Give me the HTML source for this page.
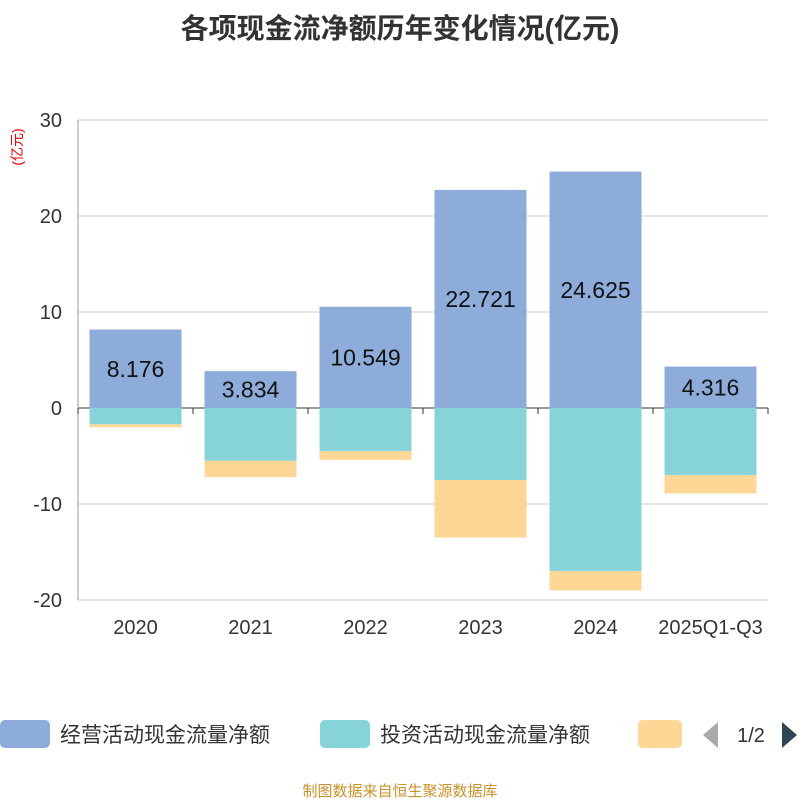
<!DOCTYPE html>
<html><head><meta charset="utf-8"><style>
body{margin:0;background:#fff;font-family:"Liberation Sans","Noto Sans CJK SC",sans-serif;}
</style></head><body>
<svg width="800" height="800" xmlns="http://www.w3.org/2000/svg" font-family="Liberation Sans, Noto Sans CJK SC, sans-serif">
<text x="400" y="38" text-anchor="middle" font-size="28" font-weight="bold" fill="#333">各项现金流净额历年变化情况(亿元)</text>
<text transform="translate(22,147) rotate(-90)" text-anchor="middle" font-size="14" fill="#e00">(亿元)</text>
<g id="grid"></g><g id="bars"></g><g id="axes"></g>
<g>
<rect x="0" y="720" width="50" height="28" rx="5" fill="#8eacd9"/>
<text x="60" y="742" font-size="21" fill="#333">经营活动现金流量净额</text>
<rect x="320" y="720" width="50" height="28" rx="5" fill="#87d4d8"/>
<text x="380" y="742" font-size="21" fill="#333">投资活动现金流量净额</text>
<rect x="638" y="720" width="44" height="28" rx="5" fill="#fed796"/>
<polygon points="718,722 718,748 703,735" fill="#aaa"/>
<text x="751" y="742" text-anchor="middle" font-size="20" fill="#333">1/2</text>
<polygon points="782,722 782,748 797,735" fill="#2f4554"/>
</g>
<text x="400" y="796" text-anchor="middle" font-size="15" fill="#c8922a">制图数据来自恒生聚源数据库</text>
</svg>
<script>
const categories=["2020","2021","2022","2023","2024","2025Q1-Q3"];
const operating=[8.176,3.834,10.549,22.721,24.625,4.316];
const investing=[-1.7,-5.5,-4.5,-7.5,-17.0,-7.0];
const financing=[-0.3,-1.7,-0.9,-6.0,-2.0,-1.9];
const yTicks=[30,20,10,0,-10,-20];
const ns="http://www.w3.org/2000/svg";
const x0=78,x1=768,yTop=120,yBot=600,yMax=30,yMin=-20;
const y=v=>yTop+(yMax-v)/(yMax-yMin)*(yBot-yTop);
const band=(x1-x0)/categories.length;
const bx=i=>x0+i*band;
function mk(tag,attrs,parent){const e=document.createElementNS(ns,tag);for(const k in attrs)e.setAttribute(k,attrs[k]);document.getElementById(parent).appendChild(e);return e;}
yTicks.forEach(t=>{
 const l=mk('line',{x1:x0,x2:x1,y1:y(t),y2:y(t),stroke:t===0?'#333':'#ccc','stroke-width':1},'grid');
 
 
 const tx=mk('text',{x:x0-16,y:y(t)+7,'text-anchor':'end','font-size':20,fill:'#333'},'axes');
 tx.textContent=t;
 
 
});
const ax=mk('line',{x1:x0,x2:x0,y1:yTop,y2:yBot,stroke:'#999'},'axes');


categories.forEach((c,i)=>{
 const bw=92,left=bx(i)+(band-bw)/2;
 const o=mk('rect',{x:left,y:y(operating[i]),width:bw,height:y(0)-y(operating[i]),fill:'#8eacd9'},'bars');
 
 
 const iv=mk('rect',{x:left,y:y(0),width:bw,height:y(investing[i])-y(0),fill:'#87d4d8'},'bars');
 
 
 const f=mk('rect',{x:left,y:y(investing[i]),width:bw,height:y(investing[i]+financing[i])-y(investing[i]),fill:'#fed796'},'bars');
 
 
 const lb=mk('text',{x:left+bw/2,y:(y(operating[i])+y(0))/2+8,'text-anchor':'middle','font-size':23,fill:'#111'},'bars');
 lb.textContent=operating[i].toFixed(3);
 
 
 const tk=mk('line',{x1:bx(i),x2:bx(i),y1:y(0),y2:y(0)+6,stroke:'#333'},'axes');
 
 
 const xl=mk('text',{x:bx(i)+band/2,y:634,'text-anchor':'middle','font-size':20,fill:'#333'},'axes');
 xl.textContent=c;
 
 
});
const lt=mk('line',{x1:x1,x2:x1,y1:y(0),y2:y(0)+6,stroke:'#333'},'axes');


</script>
</body></html>
